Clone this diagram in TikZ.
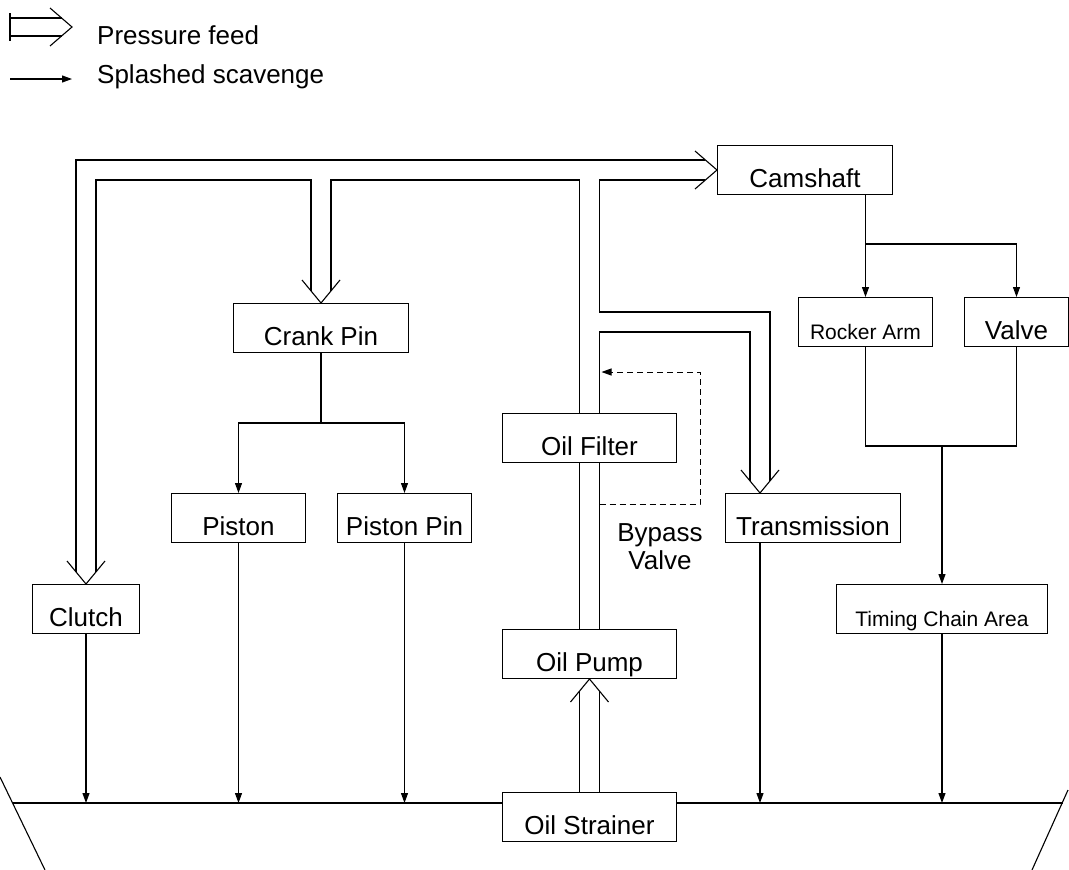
\documentclass[tikz,border=0pt]{standalone}
\usepackage{fontspec}
\setmainfont{Liberation Sans}
\usetikzlibrary{arrows.meta, calc}

\newcommand{\lblfont}{\fontsize{26}{28}\selectfont}
\newcommand{\lblsmall}{\fontsize{21}{25}\selectfont}

\tikzset{
  unit/.style={draw, line width=1pt, inner xsep=0pt, inner ysep=0pt, text height=42pt, text depth=7pt, font=\lblfont, anchor=north west},
  pipe/.style={line width=1.1pt},
  splash/.style={line width=1.1pt, -{Triangle[length=10pt, width=7pt]}},
  bypass/.style={line width=1pt, dash pattern=on 6pt off 4pt, -{Triangle[length=10pt, width=7pt]}},
  chevdown/.pic={\draw[pipe] (-19,-23) -- (0,0) -- (19,-23);},
  chevup/.pic={\draw[pipe] (-19,23) -- (0,0) -- (19,23);},
  chevright/.pic={\draw[pipe] (-22,-19) -- (0,0) -- (-22,19);},
}

\begin{document}
\begin{tikzpicture}[x=1pt, y=-1pt]
    \useasboundingbox (0,0) rectangle (1069,870);

    % Legend
    \node[anchor=base west, font=\lblfont, inner sep=0pt] (lgfeed) at (97,45) {Pressure feed};
    \node[anchor=base west, font=\lblfont, inner sep=0pt] (lgsplash) at (97,83) {Splashed scavenge};
    \coordinate (lgtip) at (72,27);
    \coordinate (lgstart) at (10,79);
    \draw[pipe] (10,13) -- (10,41);
    \draw[pipe] (10,18) -- (61.5,18);
    \draw[pipe] (10,36) -- (61.5,36);
    \pic at (lgtip) {chevright};
    \draw[splash] (lgstart) -- (lgtip |- lgstart);

    % Units
    \node[unit, minimum width=175pt] (cam) at (717,145) {Camshaft};
    \node[unit, minimum width=175pt] (crank) at (233,303) {Crank Pin};
    \node[unit, minimum width=134pt, font=\lblsmall] (rocker) at (798,297) {Rocker Arm};
    \node[unit, minimum width=104pt] (valve) at (964,297) {Valve};
    \node[unit, minimum width=174pt] (filter) at (502,413) {Oil Filter};
    \node[unit, minimum width=134pt] (piston) at (171,493) {Piston};
    \node[unit, minimum width=134pt] (pin) at (337,493) {Piston Pin};
    \node[unit, minimum width=175pt] (trans) at (725,493) {Transmission};
    \node[unit, minimum width=107pt] (clutch) at (32,584) {Clutch};
    \node[unit, minimum width=211pt, font=\lblsmall] (timing) at (836,584) {Timing Chain Area};
    \node[unit, minimum width=174pt] (pump) at (502,629) {Oil Pump};
    \node[unit, minimum width=174pt] (strainer) at (502,792) {Oil Strainer};

    % Sump
    \coordinate (sumpL) at (13,803);
    \coordinate (sumpR) at (1063,803);
    \draw[pipe] (sumpL) -- (strainer.west |- sumpL);
    \draw[pipe] (strainer.east |- sumpR) -- (sumpR);
    \draw[pipe] (0,777) -- (45,870);
    \draw[pipe] (1068,790) -- (1032,870);

    % Pressure feed
    \coordinate (feedout) at ($(cam.west)+(-12,-10)$);
    \coordinate (feedin) at ($(cam.west)+(-12,10)$);
    \coordinate (transin) at ($(trans.north west)+(35,0)$);
    \draw[pipe] ($(clutch.north)+(-10,-12)$) |- (feedout);
    \draw[pipe] ($(clutch.north)+(10,-12)$) |- ($(crank.north |- feedin)+(-10,0)$) -- ($(crank.north)+(-10,-12)$);
    \draw[pipe] ($(crank.north)+(10,-12)$) |- ($(filter.north |- feedin)+(-10,0)$) -- ($(filter.north)+(-10,0)$);
    \draw[pipe] (feedin) -- ($(filter.north |- feedin)+(10,0)$) -- ++(0,132) -| ($(transin)+(10,-12)$);
    \draw[pipe] ($(transin)+(-10,-12)$) |- ($(filter.north)+(10,-81)$) -- ($(filter.north)+(10,0)$);
    \draw[pipe] ($(filter.south)+(-10,0)$) -- ($(pump.north)+(-10,0)$);
    \draw[pipe] ($(filter.south)+(10,0)$) -- ($(pump.north)+(10,0)$);
    \draw[pipe] ($(strainer.north)+(-10,0)$) -- ($(pump.south)+(-10,12)$);
    \draw[pipe] ($(strainer.north)+(10,0)$) -- ($(pump.south)+(10,12)$);
    \pic at (clutch.north) {chevdown};
    \pic at (crank.north) {chevdown};
    \pic at (transin) {chevdown};
    \pic at (cam.west) {chevright};
    \pic at (pump.south) {chevup};

    % Splashed scavenge
    \coordinate (crankfork) at ($(crank.south)+(0,70)$);
    \draw[pipe] (crank.south) -- (crankfork);
    \draw[splash] (crankfork) -| (piston.north);
    \draw[splash] (crankfork) -| (pin.north);
    \coordinate (camfork) at ($(cam.south -| rocker.north)+(0,49)$);
    \draw[splash] (cam.south -| rocker.north) -- (rocker.north);
    \draw[splash] (camfork) -| (valve.north);
    \coordinate (valvejoin) at ($(rocker.south)+(0,99)$);
    \draw[pipe] (rocker.south) |- (valve.south |- valvejoin) -- (valve.south);
    \draw[splash] (timing.north |- valvejoin) -- (timing.north);
    \draw[splash] (clutch.south) -- (clutch.south |- sumpL);
    \draw[splash] (piston.south) -- (piston.south |- sumpL);
    \draw[splash] (pin.south) -- (pin.south |- sumpL);
    \draw[splash] (transin |- trans.south) -- (transin |- sumpL);
    \draw[splash] (timing.south) -- (timing.south |- sumpL);

    % Bypass
    \draw[bypass] ($(filter.south)+(10,41)$) -| ($(filter.north east)+(23,-41)$) -- ($(filter.north)+(12,-41)$);
    \node[font=\lblfont, align=center, anchor=north, inner sep=0pt] (bypasslbl) at (660,523) {Bypass\\Valve};
\end{tikzpicture}
\end{document}
